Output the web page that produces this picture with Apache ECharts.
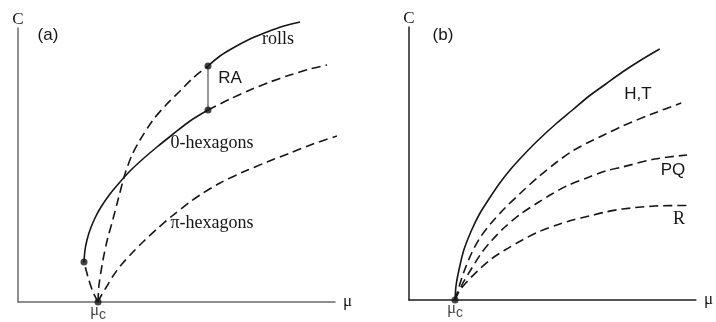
<!DOCTYPE html>
<html>
<head>
<meta charset="utf-8">
<script src="https://cdn.jsdelivr.net/npm/echarts@6/dist/echarts.min.js"></script>
<style>
  html, body { margin: 0; padding: 0; background: #fff; }
  #chart { width: 716px; height: 322px; }
</style>
</head>
<body>
<div id="chart"></div>
<script>
// ---- Panel (a): rolls vs. hexagons (subcritical) ----
const rollsUnstable = [[0.80, 0], [0.81, 0.17], [0.85, 0.42], [0.89, 0.61], [0.95, 0.83], [1.00, 1.02], [1.07, 1.28], [1.14, 1.47], [1.22, 1.62], [1.35, 1.82], [1.48, 1.97], [1.62, 2.11], [1.75, 2.24], [1.90, 2.36]];
const rollsStable = [[1.90, 2.36], [2.02, 2.46], [2.15, 2.54], [2.32, 2.63], [2.49, 2.70], [2.66, 2.76], [2.82, 2.80]];
const hex0Lower = [[0.80, 0], [0.75, 0.10], [0.70, 0.25], [0.66, 0.40]];
const hex0Stable = [[0.66, 0.40], [0.67, 0.52], [0.69, 0.62], [0.72, 0.72], [0.77, 0.84], [0.83, 0.95], [0.92, 1.08], [1.02, 1.20], [1.13, 1.32], [1.26, 1.44], [1.39, 1.55], [1.54, 1.67], [1.72, 1.81], [1.90, 1.92]];
const hex0Upper = [[1.90, 1.92], [2.12, 2.03], [2.32, 2.12], [2.52, 2.20], [2.72, 2.27], [2.92, 2.33], [3.09, 2.37]];
const hexPi = [[0.80, 0], [0.83, 0.06], [0.89, 0.16], [0.95, 0.26], [1.04, 0.38], [1.15, 0.50], [1.27, 0.62], [1.39, 0.73], [1.54, 0.86], [1.72, 1.00], [1.82, 1.07], [2.02, 1.19], [2.25, 1.30], [2.49, 1.40], [2.72, 1.49], [2.95, 1.58], [3.19, 1.66]];
const raLine = [[1.90, 2.36], [1.90, 1.92]];
const dotsA = [[0.66, 0.40], [1.90, 2.36], [1.90, 1.92]];
const muCritA = [[0.80, 0]];

// ---- Panel (b): supercritical branches ----
const branchHT = [[0.47, 0], [0.48, 0.14], [0.51, 0.30], [0.56, 0.50], [0.64, 0.70], [0.72, 0.86], [0.81, 1.00], [0.92, 1.16], [1.04, 1.31], [1.17, 1.45], [1.31, 1.59], [1.51, 1.77], [1.67, 1.90], [1.84, 2.04], [2.01, 2.16], [2.18, 2.28], [2.37, 2.40], [2.56, 2.51]];
const branchUpper = [[0.47, 0], [0.51, 0.13], [0.56, 0.28], [0.64, 0.47], [0.73, 0.63], [0.84, 0.77], [0.98, 0.92], [1.14, 1.07], [1.32, 1.23], [1.51, 1.38], [1.67, 1.49], [1.84, 1.58], [2.01, 1.66], [2.18, 1.74], [2.48, 1.86], [2.78, 1.97]];
const branchPQ = [[0.47, 0], [0.54, 0.15], [0.63, 0.30], [0.74, 0.47], [0.85, 0.60], [0.98, 0.73], [1.14, 0.86], [1.31, 0.97], [1.46, 1.06], [1.61, 1.14], [1.84, 1.23], [2.01, 1.29], [2.18, 1.33], [2.51, 1.41], [2.84, 1.45]];
const branchR = [[0.47, 0], [0.50, 0.07], [0.58, 0.17], [0.70, 0.29], [0.84, 0.41], [0.98, 0.50], [1.14, 0.59], [1.32, 0.68], [1.51, 0.75], [1.67, 0.80], [1.84, 0.84], [2.01, 0.88], [2.18, 0.91], [2.51, 0.94], [2.86, 0.945]];
const muCritB = [[0.47, 0]];

const INK = '#161616';
const DASH = [9, 5];
const SERIF = '"Liberation Serif", "Times New Roman", serif';
const SANS = '"Liberation Sans", Arial, sans-serif';

function curve(data, axisIdx, dashed) {
  return {
    type: 'line', data: data, xAxisIndex: axisIdx, yAxisIndex: axisIdx,
    smooth: 0.3, symbol: 'none', clip: false, silent: true,
    lineStyle: { color: INK, width: 1.6, type: dashed ? DASH : 'solid' }
  };
}

// Filled markers; the critical point also carries the subscripted μc label
function dots(data, axisIdx, withLabel) {
  const s = {
    type: 'scatter', data: data, xAxisIndex: axisIdx, yAxisIndex: axisIdx,
    symbol: 'circle', symbolSize: 7, clip: false, silent: true, z: 5,
    itemStyle: { color: INK }
  };
  if (withLabel) {
    s.label = {
      show: true, position: 'bottom', distance: 2,
      formatter: '{m|μ}{c|c}',
      rich: {
        m: { fontFamily: SERIF, fontSize: 17, lineHeight: 15, color: INK, verticalAlign: 'bottom', padding: [0, 0, 3, 0] },
        c: { fontFamily: SANS, fontSize: 14, lineHeight: 13, color: INK, verticalAlign: 'bottom' }
      }
    };
  }
  return s;
}

function axisPair(gridIdx, xMax, yMax, axisColor) {
  const line = { show: true, onZero: false, lineStyle: { color: axisColor, width: 1.5 } };
  return {
    x: {
      type: 'value', gridIndex: gridIdx, min: 0, max: xMax,
      axisLine: line, axisTick: { show: false }, axisLabel: { show: false }, splitLine: { show: false },
      name: 'μ', nameLocation: 'end', nameGap: 8,
      nameTextStyle: { fontFamily: SERIF, fontSize: 17, color: INK, verticalAlign: 'middle' }
    },
    y: {
      type: 'value', gridIndex: gridIdx, min: 0, max: yMax,
      axisLine: line, axisTick: { show: false }, axisLabel: { show: false }, splitLine: { show: false },
      name: 'C', nameLocation: 'end', nameGap: 0,
      nameTextStyle: { fontFamily: SERIF, fontSize: 17, color: INK, align: 'center' }
    }
  };
}

const axA = axisPair(0, 3.17, 2.74, '#6a6a6a');
const axB = axisPair(1, 2.93, 2.73, '#1e1e1e');

function label(text, x, y, font, size) {
  return {
    type: 'text', x: x, y: y, silent: true, z: 10,
    style: { text: text, fontFamily: font, fontSize: size, fill: INK, align: 'center', verticalAlign: 'middle' }
  };
}

const chart = echarts.init(document.getElementById('chart'), null, { renderer: 'canvas' });
chart.setOption({
  animation: false,
  backgroundColor: '#ffffff',
  grid: [
    { left: 18, top: 28, width: 317, height: 274 },
    { left: 409, top: 27, width: 293, height: 273 }
  ],
  xAxis: [axA.x, axB.x],
  yAxis: [axA.y, axB.y],
  series: [
    curve(rollsUnstable, 0, true),
    curve(rollsStable, 0, false),
    curve(hex0Lower, 0, true),
    curve(hex0Stable, 0, false),
    curve(hex0Upper, 0, true),
    curve(hexPi, 0, true),
    {
      type: 'line', data: raLine, xAxisIndex: 0, yAxisIndex: 0, symbol: 'none', silent: true, clip: false,
      lineStyle: { color: '#555555', width: 1.2 }
    },
    dots(dotsA, 0, false),
    dots(muCritA, 0, true),
    curve(branchHT, 1, false),
    curve(branchUpper, 1, true),
    curve(branchPQ, 1, true),
    curve(branchR, 1, true),
    dots(muCritB, 1, true)
  ],
  graphic: [
    label('(a)', 48, 35, SANS, 17),
    label('rolls', 278, 39, SERIF, 18),
    label('RA', 230, 78, SANS, 17),
    label('0-hexagons', 212, 143, SERIF, 18),
    label('π-hexagons', 212, 223, SERIF, 18),
    label('(b)', 443, 35, SANS, 17),
    label('H,T', 638, 94, SANS, 17),
    label('PQ', 673, 170, SANS, 17),
    label('R', 679, 219, SERIF, 18)
  ]
});
</script>
</body>
</html>
